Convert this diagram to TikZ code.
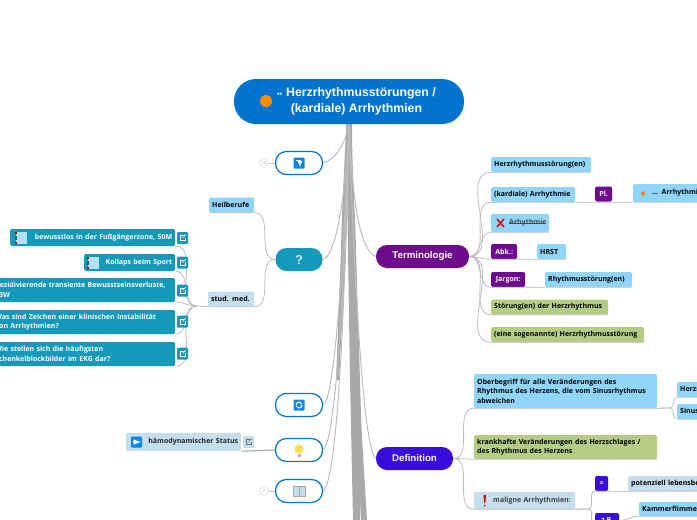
\documentclass[tikz,border=0pt]{standalone}
\usepackage{fontspec}
\setmainfont{Open Sans}
\newfontfamily\titlefont{Liberation Sans}
\definecolor{rootblue}{HTML}{0073CF}
\definecolor{termpurple}{HTML}{6E0A8C}
\definecolor{defblue}{HTML}{3A0CDC}
\definecolor{tealbox}{HTML}{1499BB}
\definecolor{skybox}{HTML}{90D5FC}
\definecolor{greenbox}{HTML}{B5CC85}
\definecolor{palebox}{HTML}{C5DEEE}
\definecolor{trunkgray}{HTML}{A9A9A9}
\definecolor{subgray}{HTML}{BDBDBD}
\definecolor{iconblue}{HTML}{0F86E6}
\tikzset{
  major/.style={rounded corners=11pt, minimum height=23pt, inner sep=0pt, text=white, font=\titlefont\bfseries\fontsize{9.7}{12}\selectfont},
  hollow/.style={draw=rootblue, line width=1.2pt, fill=white, rounded corners=11pt, minimum width=47pt, minimum height=23pt, inner sep=0pt},
  box/.style={rounded corners=1.5pt, anchor=west, inner xsep=3pt, inner ysep=0pt, minimum height=15pt, align=left, font=\bfseries\fontsize{7}{9.5}\selectfont},
  tag/.style={box, fill=termpurple, text=white, inner xsep=0pt, align=center},
  tealitem/.style={box, fill=tealbox, text=white},
  count/.style={circle, draw=black!20, minimum size=9pt, inner sep=0pt, text=black!35, font=\fontsize{4.5}{5}\selectfont},
  conn/.style={draw=subgray, line width=1pt},
  sub/.style={draw=subgray, line width=.8pt},
  trunk/.style={fill=trunkgray}
}
% kleines Link-Symbol
\newcommand{\linkicon}[4]{
  \fill[#3, rounded corners=1pt] (#1-5.5,#2-6) rectangle (#1+5.5,#2+6);
  \draw[#4, line width=.5pt] (#1+2,#2-2.5) -- (#1-2.5,#2-2.5) -- (#1-2.5,#2+2.5) -- (#1+2.5,#2+2.5) -- (#1+2.5,#2-.5);
  \draw[#4, line width=.5pt] (#1,#2) -- (#1+3.5,#2-3.5);
}
% Heft-Symbol
\newcommand{\bookicon}[2]{
  \fill[skybox!70!white] (#1-5,#2-6) rectangle (#1+6,#2+6);
  \fill[tealbox!60!black] (#1-6,#2-2) rectangle (#1-4,#2+2);
  \fill[red!70!black] (#1-6,#2-6) rectangle (#1-4,#2-4);
  \fill[red!70!black] (#1-6,#2+4) rectangle (#1-4,#2+6);
}
\begin{document}
\begin{tikzpicture}[x=1pt, y=-1pt]
  \useasboundingbox (0,0) rectangle (697,520);
  \clip (0,0) rectangle (697,520);

  % Stamm
  \fill[trunk] (346.5,123) -- (352,123) .. controls (352,170) and (355,210) .. (356,250) -- (360,380) -- (362,450) -- (360,520) -- (353,520) -- (350,380) -- (348,250) .. controls (347,200) and (347,170) .. (346.5,123);
  \fill[trunk] (346.5,123) -- (349,123) .. controls (348,170) and (347,210) .. (346,250) -- (339,380) -- (336,380) -- (341,250) .. controls (342,210) and (344,170) .. (346.5,123);
  \fill[trunk] (354,380) -- (358.5,380) -- (367,520) -- (361,520) -- cycle;

  % Hauptknoten
  \node[major, fill=rootblue, rounded corners=22pt, minimum width=230pt, minimum height=45pt] (root) at (349,101.5) {};
  \node[inner sep=0pt, align=center, text=white, font=\titlefont\bfseries\fontsize{12.3}{16}\selectfont] (roottitle) at (356.5,101.5) {{\fontsize{7}{7}\selectfont ••}\,\,Herzrhythmusstörungen /\\(kardiale) Arrhythmien};
  \fill[orange!90!yellow] (266,101) circle (6pt);

  \node[hollow] (jump) at (299,163) {};
  \node[major, fill=tealbox, minimum width=47pt, font=\titlefont\bfseries\fontsize{13}{14}\selectfont, text=white!80!tealbox] (quest) at (299,259.5) {?};
  \node[major, fill=termpurple, minimum width=93pt] (term) at (422.5,256.5) {Terminologie};
  \node[major, fill=defblue, minimum width=77pt] (defi) at (414.5,458.5) {Definition};
  \node[hollow] (cycle) at (299,405) {};
  \node[hollow] (bulb) at (299,450) {};
  \node[hollow] (book) at (299,491) {};

  \node[count] (jumpcount) at (264,163) {12};
  \node[count] (bookcount) at (264,491) {2};

  % Verbindungen vom Zentrum
  \draw[conn] (root.south) .. controls (345,145) and (335,160) .. (jump.east);
  \draw[conn] (root.south) .. controls (345,200) and (336,256) .. (quest.east);
  \draw[conn] (root.south) .. controls (352,190) and (358,250) .. (term.west);
  \draw[conn] (root.south) .. controls (355,300) and (364,450) .. (defi.west);
  \draw[conn] (root.south) .. controls (344,250) and (335,400) .. (cycle.east);
  \draw[conn] (root.south) .. controls (345,260) and (337,440) .. (bulb.east);
  \draw[conn] (root.south) .. controls (345,300) and (338,480) .. (book.east);
  \draw[sub] (jump.west) -- (jumpcount.east);
  \draw[sub] (book.west) -- (bookcount.east);

  % Terminologie
  \node[box, fill=skybox, text width=94pt] (rhythm) at (491,164.5) {Herzrhythmusstörung(en)};
  \node[box, fill=skybox, text width=78pt] (cardiac) at (491,194.5) {(kardiale) Arrhythmie};
  \node[tag, minimum width=17pt] (plural) at (595,194) {Pl.};
  \node[box, fill=skybox, text width=92pt, minimum height=18pt, inner xsep=0pt] (pluralname) at (633,193) {\hspace*{19pt}... Arrhythmien};
  \node[box, fill=skybox, text width=58pt, inner xsep=0pt, minimum height=18pt, text=black!70] (wrong) at (491,223) {\hspace*{18pt}Arhythmie};
  \node[tag, minimum width=26pt] (abbr) at (491,251.5) {Abk.:};
  \node[box, fill=skybox, text width=23pt] (hrst) at (537,251.5) {HRST};
  \node[tag, minimum width=34pt] (jargon) at (491,279.5) {Jargon:};
  \node[box, fill=skybox, text width=81pt] (short) at (545,279.5) {Rhythmusstörung(en)};
  \node[box, fill=greenbox, text width=111pt] (disorder) at (491,307) {Störung(en) der Herzrhythmus};
  \node[box, fill=greenbox, text width=147pt] (socalled) at (491,334.5) {(eine sogenannte) Herzrhythmusstörung};

  \draw[sub] (term.east) to[out=0,in=180] (rhythm.south west) -- (rhythm.south east);
  \draw[sub] (term.east) to[out=0,in=180] (cardiac.south west) -- (pluralname.south east);
  \draw[sub] (term.east) to[out=0,in=180] (wrong.south west) -- (wrong.south east);
  \draw[sub] (term.east) to[out=0,in=180] (abbr.south west) -- (hrst.south east);
  \draw[sub] (term.east) to[out=0,in=180] (jargon.south west) -- (short.south east);
  \draw[sub] (term.east) to[out=0,in=180] (disorder.south west) -- (disorder.south east);
  \draw[sub] (term.east) to[out=0,in=180] (socalled.south west) -- (socalled.south east);

  % Symbole Terminologie
  \fill[orange] (643,191) -- (645.5,193.5) -- (643,196) -- (640.5,193.5) -- cycle;
  \draw[red!85!black, line width=1.5pt] (497,219) -- (504,227) (504,219) -- (497,227);
  \draw[black!70, line width=.5pt] (509,223.5) -- (546,223.5);

  % Definition
  \node[box, fill=skybox, text width=177pt, minimum height=34pt] (umbrella) at (474,391) {Oberbegriff für alle Veränderungen des\\Rhythmus des Herzens, die vom Sinusrhythmus\\abweichen};
  \node[box, fill=greenbox, text width=177pt, minimum height=24pt] (sick) at (474,447) {krankhafte Veränderungen des Herzschlages /\\des Rhythmus des Herzens};
  \node[box, fill=palebox, text width=101pt, inner xsep=0pt, minimum height=17pt, text=black!75] (malign) at (474,500.5) {\hspace*{19pt}maligne Arrhythmien:};
  \node[box, fill=skybox, text width=62pt] (heartrate) at (677,389.5) {Herzrhythmus};
  \node[box, fill=skybox, text width=62pt] (sinus) at (677,411.5) {Sinusrhythmus};
  \node[tag, fill=defblue, minimum width=13pt] (equal) at (595,483.5) {=};
  \node[box, fill=palebox, text width=112pt] (danger) at (628,483.5) {potenziell lebensbedrohlich};
  \node[tag, fill=defblue, minimum width=24pt] (example) at (595,520.5) {z.B.};
  \node[box, fill=skybox, text width=72pt, minimum height=14pt] (flutter) at (639,509) {Kammerflimmern};

  \draw[sub] (defi.east) to[out=0,in=180] (umbrella.south west) -- (umbrella.south east);
  \draw[sub] (defi.east) to[out=0,in=180] (sick.south west) -- (sick.south east);
  \draw[sub] (defi.east) to[out=0,in=180] (malign.south west) -- (malign.south east);
  \coordinate (umbrellahub) at (670,408);
  \coordinate (malignhub) at (588,509);
  \draw[sub] (umbrella.south east) -- (umbrellahub) to[out=0,in=180] (heartrate.south west) -- (heartrate.south east);
  \draw[sub] (umbrella.south east) -- (umbrellahub) to[out=0,in=180] (sinus.south west) -- (sinus.south east);
  \draw[sub] (malign.south east) -- (malignhub) to[out=0,in=180] (equal.south west) -- (danger.south east);
  \draw[sub] (malign.south east) -- (malignhub) to[out=0,in=180] (example.south west) -- (example.south east);
  \draw[sub] (example.east) to[out=0,in=180] (flutter.south west) -- (flutter.south east);
  \fill[red!85!black] (483.5,495) -- (486,495) -- (485.3,503) -- (484.2,503) -- cycle (484.75,505.5) circle (1pt);

  % Fragen links
  \node[box, fill=skybox, text width=39pt] (heal) at (209,205) {Heilberufe};
  \node[box, fill=palebox, text width=40pt] (med) at (208,299) {stud. med.};
  \coordinate (medhub) at (197,306);
  \node[tealitem, text width=159pt, minimum height=17pt, align=right] (case1) at (10,237.5) {bewusstlos in der Fußgängerzone, 50M};
  \node[tealitem, text width=85pt, minimum height=17pt, align=right] (case2) at (84,262.5) {Kollaps beim Sport};
  \node[tealitem, text width=177pt, minimum height=24pt] (case3) at (-8,290) {Rezidivierende transiente Bewusstseinsverluste,\\23W};
  \node[tealitem, text width=177pt, minimum height=24pt] (case4) at (-8,322) {Was sind Zeichen einer klinischen Instabilität\\von Arrhythmien?};
  \node[tealitem, text width=177pt, minimum height=24pt] (case5) at (-8,354) {Wie stellen sich die häufigsten\\Schenkelblockbilder im EKG dar?};
  \draw[sub] (quest.west) to[out=180,in=0] (heal.south east) -- (heal.south west);
  \draw[sub] (quest.west) to[out=180,in=0] (med.south east) -- (med.south west) -- (medhub);
  \draw[sub] (medhub) to[out=180,in=0] (case1.south east);
  \draw[sub] (medhub) to[out=180,in=0] (case2.south east);
  \draw[sub] (medhub) to[out=180,in=0] (case3.south east);
  \draw[sub] (medhub) to[out=180,in=0] (case4.south east);
  \draw[sub] (medhub) to[out=180,in=0] (case5.south east);
  \linkicon{182.5}{238}{tealbox}{white}
  \linkicon{182.5}{262.5}{tealbox}{white}
  \linkicon{182.5}{290.5}{tealbox}{white}
  \linkicon{182.5}{321.5}{tealbox}{white}
  \linkicon{182.5}{353.5}{tealbox}{white}
  \bookicon{20.5}{238}
  \bookicon{93}{262.5}

  % Status links
  \node[box, fill=palebox, text width=109pt, minimum height=18pt, align=right, text=black!85] (status) at (126,442) {hämodynamischer Status};
  \draw[trunkgray, line width=1.2pt] (bulb.west) -- (status.south east);
  \linkicon{248.5}{442}{palebox}{black!55}
  \fill[iconblue, rounded corners=1pt] (131,436.5) rectangle (142,447.5);
  \draw[white, line width=1.5pt, -latex] (133,442) -- (141,442);

  % Symbole in den leeren Knoten
  \fill[iconblue, rounded corners=1pt] (293.5,157.5) rectangle (304.5,168.5);
  \draw[white, line width=1pt, -latex] (296,160) -- (300,160) -- (300,167);
  \fill[iconblue, rounded corners=1pt] (293.5,399.5) rectangle (304.5,410.5);
  \draw[white, line width=1pt] (296,405) arc (180:20:3pt) (302,405) arc (0:-160:3pt);
  \fill[yellow!70!orange!70] (299,449) circle (4.5pt);
  \fill[black!30] (297.5,454) rectangle (300.5,457);
  \fill[palebox] (293,486) rectangle (305,496);
  \draw[black!35, line width=.5pt] (293,486) rectangle (305,496) (299,486) -- (299,496);
\end{tikzpicture}
\end{document}
